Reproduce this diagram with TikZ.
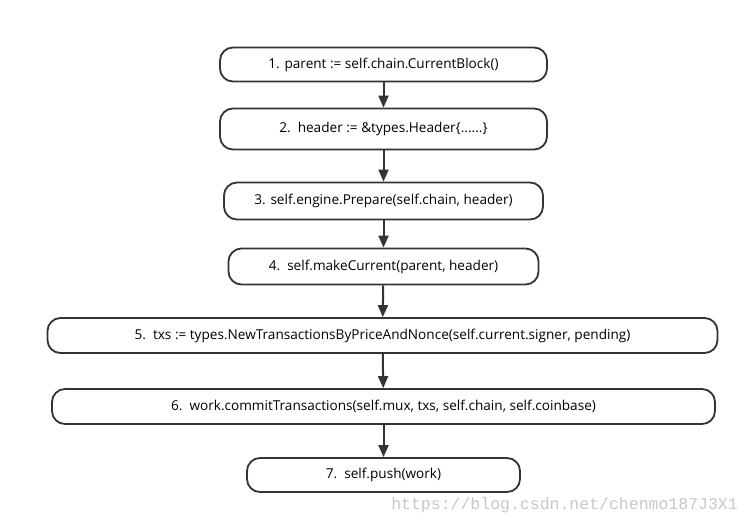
\documentclass[tikz,border=0pt]{standalone}
\usepackage{fontspec}
\setmainfont{Open Sans}
\newfontfamily\wmfont{Liberation Mono}
\usetikzlibrary{arrows.meta}
\definecolor{ink}{HTML}{333333}
\definecolor{wm}{HTML}{C8C8C8}
\tikzset{
  stepbox/.style={draw=ink, line width=1.8pt, rounded corners=13pt, fill=white, inner sep=0pt, font=\fontsize{13.6}{15}\selectfont, text=black},
  flow/.style={draw=ink, line width=2pt, -{Triangle[length=12pt,width=10pt]}},
}
\begin{document}
\begin{tikzpicture}[x=1pt,y=-1pt]
\useasboundingbox (0,0) rectangle (751,525);
\fill[white] (0,0) rectangle (751,525);
\node[stepbox, minimum width=327pt, minimum height=34pt] (s1) at (383.5,64.5) {1. parent := self.chain.CurrentBlock()};
\node[stepbox, minimum width=327pt, minimum height=41pt] (s2) at (383.5,129) {2.\ \ header := \&types.Header\{......\}};
\node[stepbox, minimum width=319pt, minimum height=37pt] (s3) at (383.5,201) {3. self.engine.Prepare(self.chain, header)};
\node[stepbox, minimum width=310pt, minimum height=36pt] (s4) at (383.5,266.5) {4.\ \ self.makeCurrent(parent, header)};
\node[stepbox, minimum width=670pt, minimum height=35pt] (s5) at (382.5,335.5) {5.\ \ txs := types.NewTransactionsByPriceAndNonce(self.current.signer, pending)};
\node[stepbox, minimum width=663pt, minimum height=35pt] (s6) at (383.5,406.5) {6.\ \ work.commitTransactions(self.mux, txs, self.chain, self.coinbase)};
\node[stepbox, minimum width=273pt, minimum height=34pt] (s7) at (383.5,475) {7.\ \ self.push(work)};
\draw[flow] (s1) -- (s2);
\draw[flow] (s2) -- (s3);
\draw[flow] (s3) -- (s4);
\draw[flow] (s4) -- (s5);
\draw[flow] (s5) -- (s6);
\draw[flow] (s6) -- (s7);
\node[anchor=east, inner sep=0pt, text=wm, font=\wmfont\fontsize{16.5}{18}\selectfont] (wmk) at (738,505) {https://blog.csdn.net/chenmo187J3X1};
\end{tikzpicture}
\end{document}
